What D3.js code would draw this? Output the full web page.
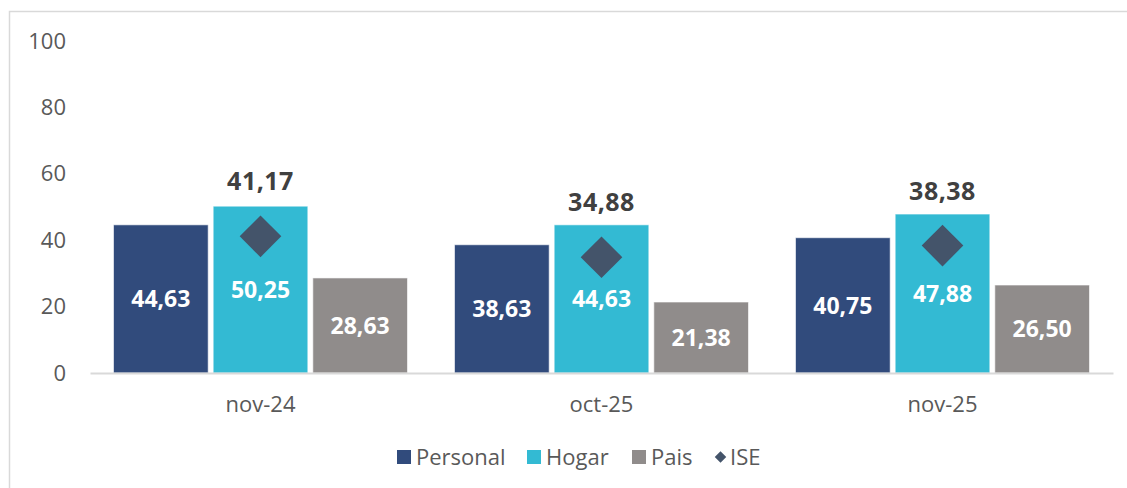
<!DOCTYPE html>
<html><head><meta charset="utf-8">
<script src="https://cdn.jsdelivr.net/npm/d3@7"></script>
<style>body{margin:0;background:#fff}svg{display:block;font-family:"Open Sans",sans-serif}</style>
</head><body><svg id="c" width="1127" height="488"></svg>
<script>
const categories = ["nov-24", "oct-25", "nov-25"];
const seriesNames = ["Personal", "Hogar", "Pais"];
const personal = [44.63, 38.63, 40.75];
const hogar = [50.25, 44.63, 47.88];
const pais = [28.63, 21.38, 26.50];
const ise = [41.17, 34.88, 38.38];
const yTicks = [0, 20, 40, 60, 80, 100];
const colors = {Personal: "#314B7C", Hogar: "#33BAD3", Pais: "#908C8B", ISE: "#44546A"};

const svg = d3.select("#c");
const fmt = v => v.toFixed(2).replace(".", ",");

// frame
svg.append("path").attr("d", "M9.5,488V11.5H1127").attr("fill", "none").attr("stroke", "#D9D9D9").attr("stroke-width", 1.5);

const x0 = d3.scaleBand().domain(categories).range([90, 1113]).paddingInner(0).paddingOuter(0);
const x1 = d3.scaleBand().domain(seriesNames).range([23.5, 341 - 23.5]).paddingInner(0.05).paddingOuter(0);
const y = d3.scaleLinear().domain([0, 100]).range([373, 41]);

// y axis labels
const yAxis = svg.append("g").attr("transform", "translate(66,0)")
  .call(d3.axisLeft(y).tickValues(yTicks).tickSize(0).tickPadding(0));
yAxis.select(".domain").remove();
yAxis.selectAll("text").attr("font-size", 22).attr("fill", "#595959").attr("font-family", "Open Sans");

// data
const data = categories.map((c, i) => ({cat: c, vals: [
  {s: "Personal", v: personal[i]}, {s: "Hogar", v: hogar[i]}, {s: "Pais", v: pais[i]}], ise: ise[i]}));

const groups = svg.selectAll("g.grp").data(data).join("g").attr("class", "grp")
  .attr("transform", d => `translate(${x0(d.cat)},0)`);

groups.selectAll("rect").data(d => d.vals).join("rect")
  .attr("x", d => x1(d.s)).attr("width", x1.bandwidth())
  .attr("y", d => y(d.v)).attr("height", d => y(0) - y(d.v))
  .attr("fill", d => colors[d.s]).attr("stroke", "rgba(255,255,255,0.6)").attr("stroke-width", 1);

groups.selectAll("text.vl").data(d => d.vals).join("text").attr("class", "vl")
  .attr("x", d => x1(d.s) + x1.bandwidth() / 2)
  .attr("y", d => (y(d.v) + y(0)) / 2)
  .attr("dy", "0.36em").attr("text-anchor", "middle")
  .attr("font-size", 23).attr("font-weight", 700).attr("fill", "#fff")
  .text(d => fmt(d.v));

// x axis line + labels
const xAxis = svg.append("g").attr("transform", `translate(0,${y(0)})`)
  .call(d3.axisBottom(x0).tickSize(0).tickPadding(0));
xAxis.select(".domain").attr("stroke", "#D9D9D9").attr("stroke-width", 2);
xAxis.selectAll("text").attr("font-size", 22).attr("fill", "#595959").attr("font-family", "Open Sans")
  .attr("y", 31).attr("dy", "0.36em");

// ISE diamonds
const diamond = d3.symbol().type(d3.symbolDiamond2).size(47 * 47 / 2);
groups.append("path").attr("d", diamond)
  .attr("transform", d => `translate(${x1("Hogar") + x1.bandwidth() / 2},${y(d.ise)})`)
  .attr("fill", colors.ISE);
groups.append("text")
  .attr("x", x1("Hogar") + x1.bandwidth() / 2).attr("y", d => y(d.ise) - 55)
  .attr("dy", "0.36em").attr("text-anchor", "middle")
  .attr("font-size", 25).attr("font-weight", 700).attr("fill", "#404040")
  .attr("letter-spacing", 0.5)
  .text(d => fmt(d.ise));

// legend
const legendItems = seriesNames.concat(["ISE"]);
const legX = [397, 527, 632, 714];
const leg = svg.append("g").attr("transform", "translate(0,457)");
legendItems.forEach((n, i) => {
  const g = leg.append("g").attr("transform", `translate(${legX[i]},0)`);
  if (n === "ISE") {
    g.append("path").attr("d", d3.symbol().type(d3.symbolDiamond2).size(85)())
      .attr("transform", "translate(6.5,0)").attr("fill", colors.ISE);
    g.append("text").attr("x", 16).attr("dy", "0.36em").attr("font-size", 22).attr("fill", "#595959").text(n);
  } else {
    g.append("rect").attr("x", 0).attr("y", -7).attr("width", 14).attr("height", 14).attr("fill", colors[n]);
    g.append("text").attr("x", 19).attr("dy", "0.36em").attr("font-size", 22).attr("fill", "#595959").text(n);
  }
});
</script></body></html>
